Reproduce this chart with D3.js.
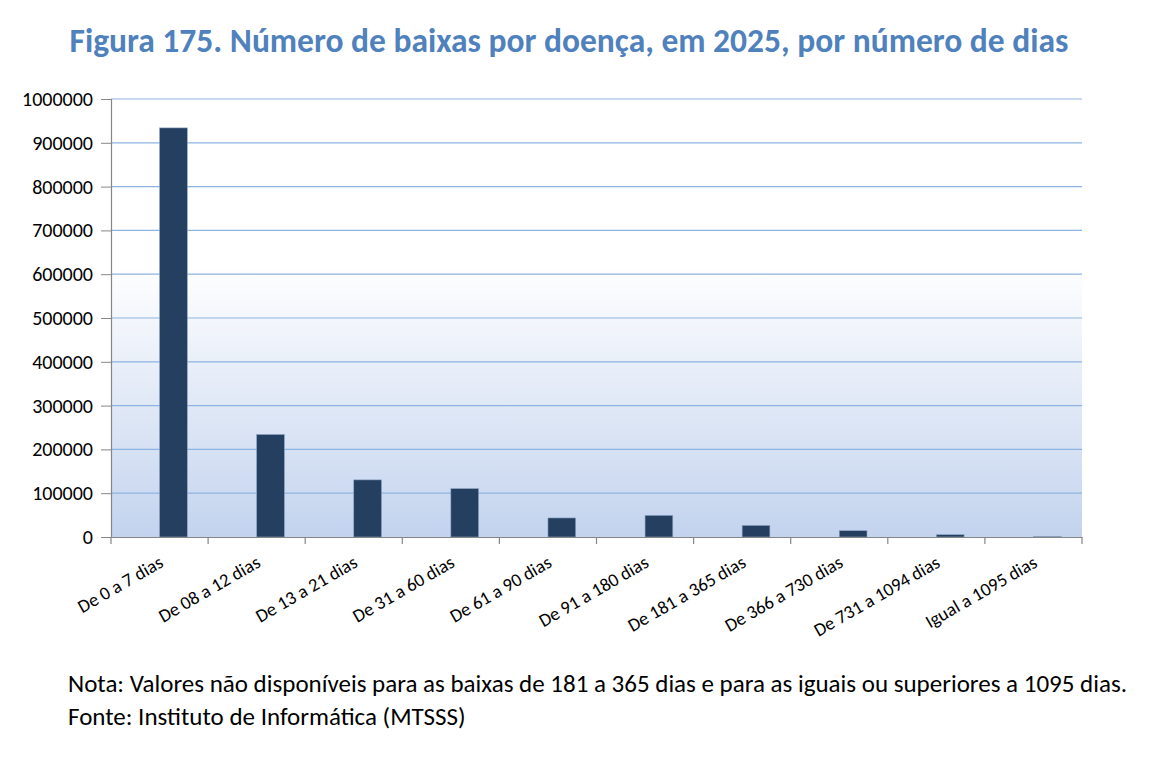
<!DOCTYPE html>
<html>
<head>
<meta charset="utf-8">
<script src="https://cdn.jsdelivr.net/npm/d3@7"></script>
<style>
  body { margin: 0; background: #fff; }
  svg { display: block; }
</style>
</head>
<body>
<div id="chart"></div>
<script>
// Figura 175 — baixas por doença por número de dias (2025)

const categories = [
    "De 0 a 7 dias", "De 08 a 12 dias", "De 13 a 21 dias", "De 31 a 60 dias", "De 61 a 90 dias",
    "De 91 a 180 dias", "De 181 a 365 dias", "De 366 a 730 dias", "De 731 a 1094 dias", "Igual a 1095 dias"
];
const values = [934000, 234000, 130400, 110500, 43500, 49400, 26500, 14400, 5300, 1500];
const yTicks = [0, 100000, 200000, 300000, 400000, 500000, 600000, 700000, 800000, 900000, 1000000];
const titleText = "Figura 175. Número de baixas por doença, em 2025, por número de dias";
const notes = [
    "Nota: Valores não disponíveis para as baixas de 181 a 365 dias e para as iguais ou superiores a 1095 dias.",
    "Fonte: Instituto de Informática (MTSSS)"
];

(function () {
    const W = 1172, H = 780;
    const m = { left: 111, right: 1082, top: 99, bottom: 537 };
    const font = "Carlito, 'Open Sans', Lato, sans-serif";

    const svg = d3.select("#chart").append("svg").attr("width", W).attr("height", H);

    // background gradient of plot area
    const defs = svg.append("defs");
    const grad = defs.append("linearGradient").attr("id", "bg").attr("x1", 0).attr("y1", 0).attr("x2", 0).attr("y2", 1);
    grad.append("stop").attr("offset", "0%").attr("stop-color", "#ffffff");
    grad.append("stop").attr("offset", "38%").attr("stop-color", "#ffffff");
    grad.append("stop").attr("offset", "100%").attr("stop-color", "#c3d3ee");

    svg.append("text")
        .attr("x", 569).attr("y", 52)
        .attr("text-anchor", "middle")
        .attr("font-family", font).attr("font-weight", 700).attr("font-size", 33.5)
        .attr("fill", "#4f81bd")
        .text(titleText);

    const x = d3.scaleBand().domain(categories).range([m.left, m.right]).padding(0);
    const y = d3.scaleLinear().domain([0, 1000000]).range([m.bottom, m.top]);

    svg.append("rect")
        .attr("x", m.left).attr("y", m.top)
        .attr("width", m.right - m.left).attr("height", m.bottom - m.top)
        .attr("fill", "url(#bg)");

    // gridlines
    svg.append("g").selectAll("line")
        .data(yTicks.filter(d => d > 0)).enter().append("line")
        .attr("x1", m.left).attr("x2", m.right)
        .attr("y1", d => y(d)).attr("y2", d => y(d))
        .attr("stroke", "#8db3e2").attr("stroke-width", 1.2);

    // bars (second slot of a two-series cluster, gap 150%)
    const bw = x.bandwidth() / 3.5;
    svg.append("g").selectAll("rect")
        .data(categories).enter().append("rect")
        .attr("x", (d) => x(d) + x.bandwidth() / 2)
        .attr("y", (d, i) => y(values[i]))
        .attr("width", bw)
        .attr("height", (d, i) => y(0) - y(values[i]))
        .attr("fill", "#243f60")
        .attr("stroke", "#8ea5c4").attr("stroke-width", 0.6);

    // y axis
    const yAxis = svg.append("g").attr("transform", `translate(${m.left},0)`)
        .call(d3.axisLeft(y).tickValues(yTicks).tickFormat(d3.format("d")).tickSize(10).tickPadding(8));
    yAxis.select(".domain").attr("stroke", "#868686").attr("stroke-width", 1.2);
    yAxis.selectAll(".tick line").attr("stroke", "#868686");
    yAxis.selectAll("text").attr("font-family", font).attr("font-size", 20).attr("fill", "#000");

    // x axis
    const xAxis = svg.append("g").attr("transform", `translate(0,${m.bottom})`)
        .call(d3.axisBottom(x).tickSize(0).tickFormat(""));
    xAxis.select(".domain").attr("stroke", "#868686").attr("stroke-width", 1.2);
    xAxis.selectAll(".tick").remove();
    const edges = categories.map(c => x(c)).concat([m.right]);
    xAxis.selectAll("line.edge").data(edges).enter().append("line")
        .attr("class", "edge")
        .attr("x1", d => d).attr("x2", d => d).attr("y1", 0).attr("y2", 7)
        .attr("stroke", "#868686").attr("stroke-width", 1.2);
    xAxis.selectAll("text.lbl").data(categories).enter().append("text")
        .attr("class", "lbl")
        .attr("transform", d => `translate(${x(d) + x.bandwidth() / 2 + 5},${29}) rotate(-30)`)
        .attr("text-anchor", "end")
        .attr("font-family", font).attr("font-size", 18.5).attr("fill", "#000")
        .text(d => d);

    // notes
    svg.append("g").selectAll("text")
        .data(notes).enter().append("text")
        .attr("x", 68).attr("y", (d, i) => 692 + i * 33)
        .attr("font-family", font).attr("font-size", 25).attr("fill", "#000")
        .text(d => d);
})();
</script>
</body>
</html>
